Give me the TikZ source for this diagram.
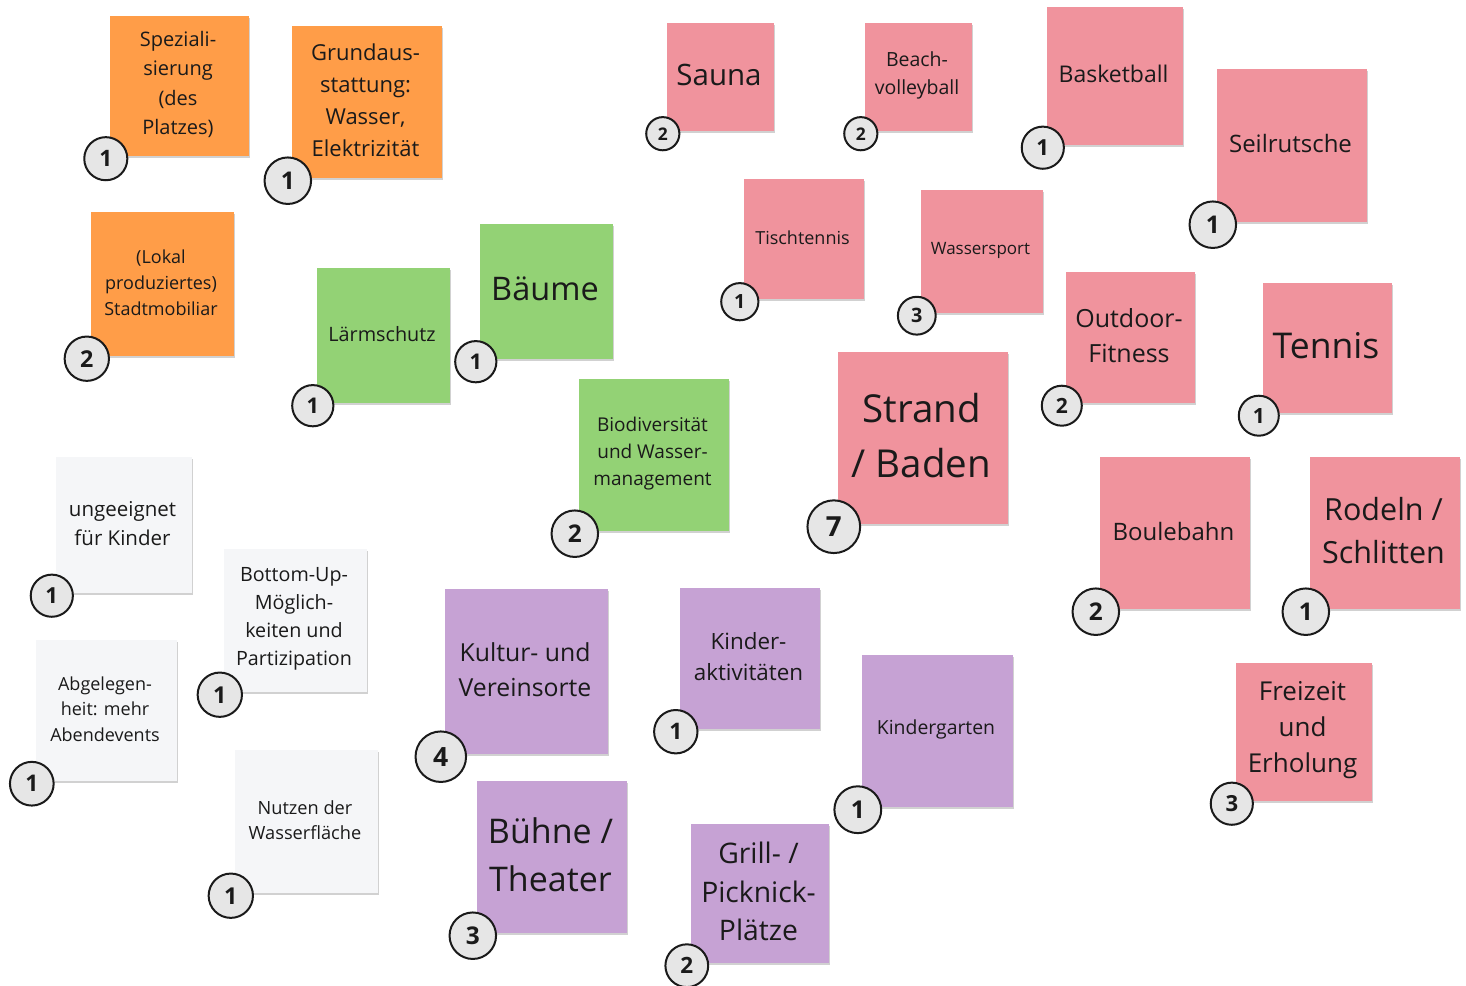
\documentclass[tikz,border=0pt]{standalone}
\usepackage{fontspec}
\setmainfont{Open Sans}
\usetikzlibrary{shadows}
\definecolor{noteorange}{HTML}{FF9D48}
\definecolor{notepink}{HTML}{F0939D}
\definecolor{notegreen}{HTML}{93D275}
\definecolor{notepurple}{HTML}{C6A2D4}
\definecolor{notegray}{HTML}{F5F6F8}
\definecolor{inktext}{HTML}{1A1A1A}
\definecolor{badgefill}{HTML}{E6E6E6}
\tikzset{
  stickynote/.style={draw=none, rectangle, inner sep=0pt,
    drop shadow={shadow xshift=1.2pt, shadow yshift=-1.6pt, opacity=0.18, fill=black}},
  notetext/.style={inner sep=0pt, align=center, text=inktext},
  votebadge/.style={circle, draw=inktext, line width=2pt, fill=badgefill, inner sep=0pt, text=inktext}
}
% line spacing of note texts, in percent of the font size
\def\noteleading{142}
% #1 name, #2 colour, #3 centre x, #4 centre y, #5 width, #6 height, #7 font size, #8 text, #9 votes
\newcommand\sticky[9]{%
  \pgfmathsetmacro\badger{0.155*#5}%
  \pgfmathsetmacro\badgefs{1.05*\badger}%
  \pgfmathsetmacro\textlift{0.075*#7}%
  \node[stickynote, fill=#2, minimum width=#5pt, minimum height=#6pt] (#1) at (#3,#4) {};
  \node[notetext, font=\fontsize{#7}{\the\dimexpr #7pt*\noteleading/100\relax}\selectfont]
        (#1-text) at ([xshift=-1.5pt,yshift=\textlift pt]#1.center) {#8};
  \node[votebadge, minimum size=2*\badger pt,
        font=\fontsize{\badgefs}{\badgefs}\selectfont\bfseries] (#1-votes)
        at ([xshift=-4pt,yshift=-2.5pt]#1.south west) {#9};
}
\begin{document}
\begin{tikzpicture}[x=1pt,y=-1pt]
\useasboundingbox (0,0) rectangle (1466,985);
\fill[white] (0,0) rectangle (1466,985);
% infrastructure
\def\noteleading{146}
\sticky{spez}{noteorange}{179.5}{86}{139}{140}{20}{Speziali-\\sierung\\(des\\Platzes)}{1}
\sticky{grund}{noteorange}{367}{102}{150}{152}{22}{Grundaus-\\stattung:\\Wasser,\\Elektrizität}{1}
\def\noteleading{143}
\sticky{mobiliar}{noteorange}{162.5}{284}{143}{144}{18}{(Lokal\\produziertes)\\Stadtmobiliar}{2}
% nature
\sticky{laerm}{notegreen}{383.5}{335.5}{133}{135}{19.8}{Lärmschutz}{1}
\sticky{baeume}{notegreen}{546.5}{291.5}{133}{135}{32.5}{Bäume}{1}
\sticky{biodiv}{notegreen}{654}{455}{150}{152}{19}{Biodiversität\\und Wasser-\\management}{2}
% sport and leisure
\sticky{sauna}{notepink}{720.5}{77}{107}{108}{29.5}{Sauna}{2}
\sticky{beach}{notepink}{918.5}{77}{107}{108}{19.5}{Beach-\\volleyball}{2}
\sticky{basket}{notepink}{1115}{76}{136}{138}{23}{Basketball}{1}
\sticky{seil}{notepink}{1292}{145.5}{150}{153}{24}{Seilrutsche}{1}
\sticky{tisch}{notepink}{804}{239}{120}{120}{18}{Tischtennis}{1}
\sticky{wasser}{notepink}{982}{251.5}{122}{123}{17}{Wassersport}{3}
\sticky{fitness}{notepink}{1130.5}{337.5}{129}{131}{25}{Outdoor-\\Fitness}{2}
\sticky{tennis}{notepink}{1327.5}{348}{129}{130}{35.5}{Tennis}{1}
\sticky{strand}{notepink}{923}{438}{170}{172}{38.5}{Strand\\/ Baden}{7}
\sticky{boule}{notepink}{1175}{533}{150}{152}{24}{Boulebahn}{2}
\sticky{rodeln}{notepink}{1385}{533}{150}{152}{30.5}{Rodeln /\\Schlitten}{1}
\def\noteleading{138}
\sticky{freizeit}{notepink}{1304}{732}{136}{138}{26}{Freizeit\\und\\Erholung}{3}
% culture
\def\noteleading{141}
\sticky{kultur}{notepurple}{526.5}{671.5}{163}{165}{24.8}{Kultur- und\\Vereinsorte}{4}
\def\noteleading{139}
\sticky{kinder}{notepurple}{750}{658.5}{140}{141}{22.4}{Kinder-\\aktivitäten}{1}
\sticky{kiga}{notepurple}{937.5}{731}{151}{152}{19.4}{Kindergarten}{1}
\def\noteleading{141}
\sticky{buehne}{notepurple}{552}{857}{150}{152}{34}{Bühne /\\Theater}{3}
\def\noteleading{137}
\sticky{grill}{notepurple}{760}{893.5}{138}{139}{28.3}{Grill- /\\Picknick-\\Plätze}{2}
% remarks
\def\noteleading{142}
\sticky{kinderungeeignet}{notegray}{124}{525}{136}{136}{20.5}{ungeeignet\\für Kinder}{1}
\sticky{bottomup}{notegray}{295.5}{620.5}{143}{143}{19.7}{Bottom-Up-\\Möglich-\\keiten und\\Partizipation}{1}
\sticky{abgelegen}{notegray}{106.5}{710.5}{141}{141}{18}{Abgelegen-\\heit: mehr\\Abendevents}{1}
\sticky{wasserflaeche}{notegray}{306.5}{821.5}{143}{143}{18.2}{Nutzen der\\Wasserfläche}{1}
\end{tikzpicture}
\end{document}
